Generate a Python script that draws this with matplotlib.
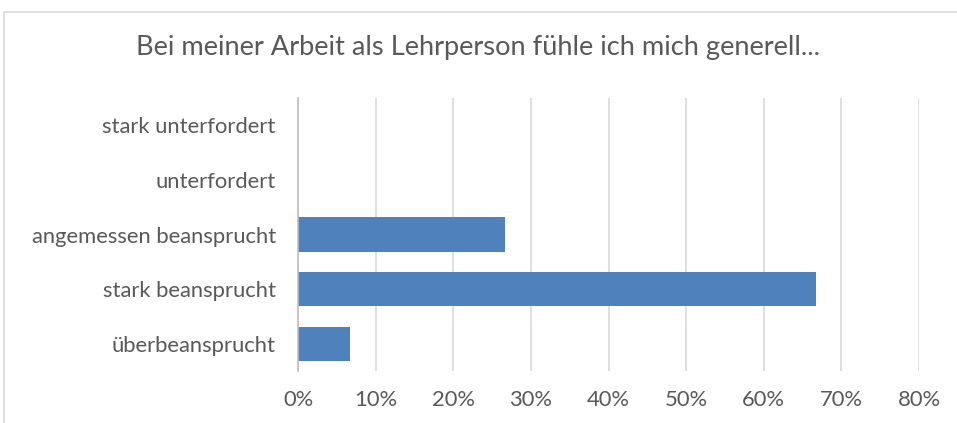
import matplotlib.pyplot as plt
import matplotlib.ticker as mticker
from matplotlib.patches import Rectangle

plt.rcParams['font.family'] = ['Lato', 'DejaVu Sans']

# data (share of respondents, percent)
categories = ['stark unterfordert', 'unterfordert', 'angemessen beansprucht',
              'stark beansprucht', 'überbeansprucht']
values = [0, 0, 26.7, 66.7, 6.7]
xticks = [0, 10, 20, 30, 40, 50, 60, 70, 80]

text_color = '#595959'
bar_color = '#4F81BD'
grid_color = '#D9D9D9'

fig = plt.figure(figsize=(9.57, 4.23), dpi=100)
ax = fig.add_axes([298 / 957, 1 - 371 / 423, 621 / 957, 273 / 423])

# outer chart frame (cropped screenshot, only left and top visible)
fig.patches.append(Rectangle((4 / 957, -0.1), 1.1, 1 - 12 / 423 + 0.1,
                             transform=fig.transFigure, fill=False,
                             edgecolor=grid_color, linewidth=1.2))

pos = list(range(len(categories)))[::-1]
ax.barh(pos, values, height=0.63, color=bar_color, zorder=3)

ax.set_xlim(0, 80)
ax.set_ylim(-0.5, len(categories) - 0.5)
ax.set_xticks(xticks)
ax.xaxis.set_major_formatter(mticker.FuncFormatter(lambda v, p: f'{v:.0f}%'))
ax.set_yticks(pos)
ax.set_yticklabels(categories)

ax.grid(axis='x', color=grid_color, linewidth=1.2, zorder=0)
for s in ['top', 'right', 'bottom']:
    ax.spines[s].set_visible(False)
ax.spines['left'].set_color('#BFBFBF')
ax.spines['left'].set_linewidth(1.2)
ax.spines['left'].set_zorder(4)

ax.tick_params(axis='both', length=0, labelsize=15.8, colors=text_color)
ax.tick_params(axis='x', pad=14)
ax.tick_params(axis='y', pad=16)

fig.text(0.5, 1 - 47 / 423, 'Bei meiner Arbeit als Lehrperson fühle ich mich generell...',
         ha='center', va='center', fontsize=19.6, color=text_color)

fig.savefig('out.png', dpi=100, facecolor='white')
